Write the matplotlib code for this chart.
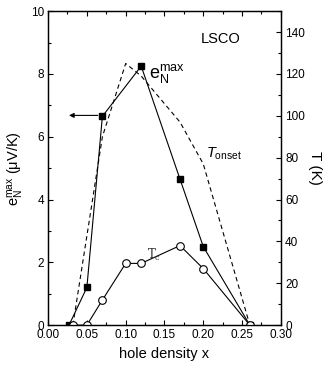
import matplotlib
matplotlib.use("Agg")
from matplotlib import pyplot as plt
from matplotlib.ticker import MultipleLocator

plt.rcParams['font.family'] = ['Liberation Sans', 'DejaVu Sans']
plt.rcParams['mathtext.fontset'] = 'custom'
plt.rcParams['mathtext.rm'] = 'Liberation Sans'
plt.rcParams['mathtext.it'] = 'Liberation Sans:italic'

# e_N^max (left axis, uV/K)
x_en = [0.027, 0.05, 0.07, 0.12, 0.17, 0.20, 0.26]
en_max = [0.0, 1.2, 6.65, 8.25, 4.65, 2.5, 0.0]

# Tc (right axis, K)
x_tc = [0.032, 0.05, 0.07, 0.10, 0.12, 0.17, 0.20, 0.26]
tc = [0.0, 0.0, 12.0, 29.5, 29.5, 38.0, 27.0, 0.0]

# T onset (right axis, K)
x_on = [0.032, 0.07, 0.10, 0.12, 0.17, 0.20, 0.26]
t_onset = [0.0, 90.0, 125.0, 119.0, 97.0, 77.0, 0.0]

fig = plt.figure(figsize=(3.27, 3.72), dpi=100)
ax = fig.add_axes([0.147, 0.126, 0.712, 0.844])
ax2 = ax.twinx()

ax.plot(x_en, en_max, color='black', lw=0.8, marker='s', ms=5,
        mfc='black', mec='black')
ax2.plot(x_on, t_onset, color='black', lw=0.8, ls=(0, (4, 3)))
ax2.plot(x_tc, tc, color='black', lw=0.8, marker='o', ms=5.5,
         mfc='white', mec='black', mew=0.8)

ax.set_xlim(0, 0.30)
ax.set_ylim(0, 10)
ax2.set_ylim(0, 150)

ax.xaxis.set_major_locator(MultipleLocator(0.05))
ax.xaxis.set_minor_locator(MultipleLocator(0.025))
ax.yaxis.set_major_locator(MultipleLocator(2))
ax.yaxis.set_minor_locator(MultipleLocator(1))
ax2.yaxis.set_minor_locator(MultipleLocator(10))
ax2.set_yticks([0, 20, 40, 60, 80, 100, 120, 140])

ax.xaxis.set_major_formatter(matplotlib.ticker.FormatStrFormatter('%.2f'))

ax.tick_params(axis='x', which='both', direction='in', top=True, labelsize=8.5, pad=3)
ax.tick_params(axis='y', which='both', direction='in', right=False, labelsize=8.5, pad=3)
ax2.tick_params(axis='y', which='both', direction='in', labelsize=8.5, pad=3)
for a in (ax, ax2):
    a.tick_params(which='major', length=3.5, width=0.8)
    a.tick_params(which='minor', length=2, width=0.8)
    for s in a.spines.values():
        s.set_linewidth(0.9)

ax.set_xlabel('hole density x', fontsize=10.5, labelpad=4)
ax.set_ylabel(r'$\mathregular{e_N^{max}}$ (μV/K)', fontsize=10.5, labelpad=3)
ax2.set_ylabel('T (K)', fontsize=11, rotation=270, labelpad=12)

ax.text(0.222, 9.1, 'LSCO', fontsize=10.5, ha='center', va='center')
ax.text(0.13, 8.0, r'$\mathregular{e_N^{max}}$', fontsize=13, ha='left', va='center')
ax2.text(0.204, 82, r'$T_{\mathregular{onset}}$', fontsize=10.5, ha='left', va='center')
ax2.text(0.127, 33.5, r'$\mathrm{T_c}$', fontsize=8.5, ha='left', va='center',
         math_fontfamily='dejavuserif', color='#333333')

ax.annotate('', xy=(0.027, 6.68), xytext=(0.064, 6.68),
            arrowprops=dict(arrowstyle='-|>', color='black', lw=0.8,
                            mutation_scale=7, shrinkA=0, shrinkB=0))

fig.savefig('out.png', dpi=100)
